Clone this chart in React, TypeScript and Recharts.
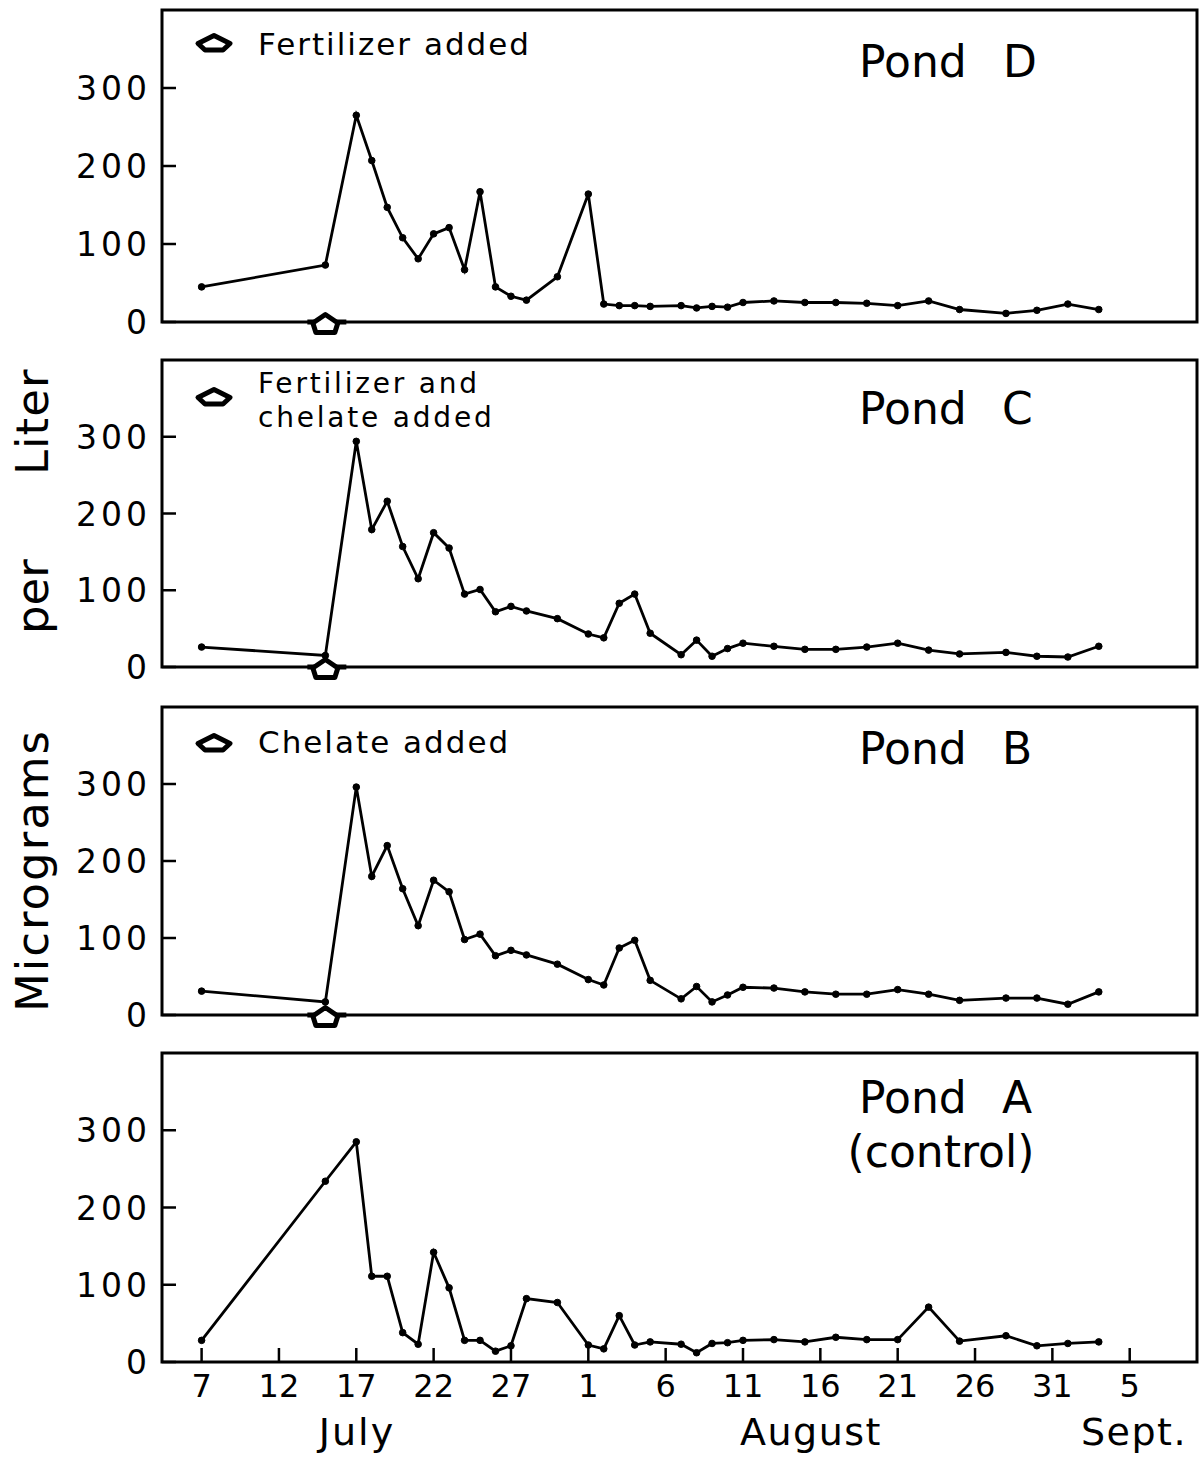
import React from 'react';
import { LineChart, Line, XAxis, YAxis, ReferenceArea, ReferenceDot } from 'recharts';

// Sampling dates, as days after July 7
const sampleDays = [0, 8, 10, 11, 12, 13, 14, 15, 16, 17, 18, 19, 20, 21, 23, 25, 26, 27, 28, 29, 31, 32, 33, 34, 35, 37, 39, 41, 43, 45, 47, 49, 52, 54, 56, 58];

const pondD = [45, 73, 265, 207, 147, 108, 81, 113, 121, 67, 167, 45, 33, 28, 58, 164, 23, 21, 21, 20, 21, 18, 20, 19, 25, 27, 25, 25, 24, 21, 27, 16, 11, 15, 23, 16];
const pondC = [26, 15, 294, 179, 216, 157, 115, 175, 155, 95, 101, 72, 79, 73, 63, 43, 38, 83, 95, 44, 16, 35, 14, 24, 31, 27, 23, 23, 26, 31, 22, 17, 19, 14, 13, 27];
const pondB = [31, 17, 296, 180, 220, 164, 116, 175, 160, 98, 105, 77, 84, 78, 66, 46, 39, 87, 97, 45, 21, 37, 17, 26, 36, 35, 30, 27, 27, 33, 27, 19, 22, 22, 14, 30];
const pondA = [28, 234, 285, 111, 111, 38, 23, 142, 96, 28, 28, 14, 21, 82, 77, 22, 17, 60, 22, 26, 23, 12, 24, 25, 28, 29, 26, 32, 29, 29, 71, 27, 34, 21, 24, 26];

const xTicks = [0, 5, 10, 15, 20, 25, 30, 35, 40, 45, 50, 55, 60];
const xTickLabels = ['7', '12', '17', '22', '27', '1', '6', '11', '16', '21', '26', '31', '5'];
const yTicks = [0, 100, 200, 300];
const additionDay = 8;

const X_DOMAIN: [number, number] = [-2.56, 64.35];
const Y_DOMAIN: [number, number] = [0, 400];
const FONT = 'DejaVu Sans';

const toRows = (values: number[]) => sampleDays.map((day, i) => ({ day, value: values[i] }));

const YTick = (props: any) => {
  const { x, y, payload } = props;
  return (
    <g>
      <line x1={x + 15} x2={x + 29} y1={y} y2={y} stroke="#000" strokeWidth={2.5} />
      <text x={x + 4} y={y} dy={12} textAnchor="end" fontFamily={FONT} fontSize={33} letterSpacing={4} fill="#000">
        {payload.value}
      </text>
    </g>
  );
};

const XTick = (props: any) => {
  const { x, y, payload } = props;
  const idx = xTicks.indexOf(payload.value);
  return (
    <g>
      <line x1={x} x2={x} y1={y - 11} y2={y - 25} stroke="#000" strokeWidth={2.5} />
      <text x={x} y={y + 24} textAnchor="middle" fontFamily={FONT} fontSize={32} fill="#000">
        {idx >= 0 ? xTickLabels[idx] : ''}
      </text>
    </g>
  );
};

const AxisArrow = (props: any) => {
  const { cx, cy } = props;
  return (
    <g transform={`translate(${cx},${cy + 1})`}>
      <line x1={-18} x2={21} y1={-1} y2={-1} stroke="#000" strokeWidth={5} />
      <path d="M -12.5 0 L 0 -8.5 L 12.5 0 L 9.5 9.5 L -9.5 9.5 Z" fill="#fff" stroke="#000" strokeWidth={5} strokeLinejoin="round" />
    </g>
  );
};

type PanelProps = { values: number[]; plotTop: number; plotHeight: number; showX?: boolean; marker?: boolean };

const Panel = ({ values, plotTop, plotHeight, showX = false, marker = false }: PanelProps) => {
  const data = toRows(values);
  const topM = 10;
  const bottomM = showX ? 0 : 30;
  const axisH = showX ? 100 : 0;
  return (
    <div style={{ position: 'absolute', left: 0, top: plotTop - topM }}>
      <LineChart width={1199} height={topM + plotHeight + bottomM + axisH} data={data} margin={{ top: topM, right: 2, left: 0, bottom: bottomM }}>
        <XAxis
          dataKey="day"
          type="number"
          domain={X_DOMAIN}
          allowDataOverflow
          ticks={xTicks}
          interval={0}
          hide={!showX}
          height={100}
          axisLine={false}
          tickLine={false}
          tickSize={0}
          tickMargin={11}
          tick={XTick}
        />
        <YAxis
          type="number"
          domain={Y_DOMAIN}
          allowDataOverflow
          ticks={yTicks}
          interval={0}
          width={162}
          axisLine={false}
          tickLine={false}
          tickSize={0}
          tickMargin={15}
          tick={YTick}
        />
        <ReferenceArea x1={X_DOMAIN[0]} x2={X_DOMAIN[1]} y1={Y_DOMAIN[0]} y2={Y_DOMAIN[1]} fill="none" fillOpacity={0} stroke="#000" strokeWidth={3} />
        {marker && <ReferenceDot x={additionDay} y={0} r={10} shape={AxisArrow} />}
        <Line
          dataKey="value"
          type="linear"
          stroke="#000"
          strokeWidth={2.8}
          dot={{ r: 3.3, fill: '#000', stroke: '#000', strokeWidth: 1 }}
          activeDot={false}
          isAnimationActive={false}
        />
      </LineChart>
    </div>
  );
};

const LegendSymbol = ({ cx, cy }: { cx: number; cy: number }) => (
  <path
    transform={`translate(${cx},${cy})`}
    d="M -16 0.5 L 0 -7.5 L 16 0.5 L 9 7 L -9 7 Z"
    fill="#fff"
    stroke="#000"
    strokeWidth={5}
    strokeLinejoin="round"
  />
);

const txt = { fontFamily: FONT, fill: '#000' } as const;

export default function App() {
  return (
    <div style={{ position: 'absolute', left: 0, top: 0, width: 1199, height: 1462, background: '#fff' }}>
      <Panel values={pondD} plotTop={10} plotHeight={312} marker />
      <Panel values={pondC} plotTop={360} plotHeight={307} marker />
      <Panel values={pondB} plotTop={707} plotHeight={308} marker />
      <Panel values={pondA} plotTop={1053} plotHeight={309} showX />
      <svg width={1199} height={1462} style={{ position: 'absolute', left: 0, top: 0, pointerEvents: 'none' }}>
        {/* y axis title */}
        <text {...txt} fontSize={45} letterSpacing={2} transform="rotate(-90 48 1012)" x={48} y={1012}>Micrograms</text>
        <text {...txt} fontSize={45} letterSpacing={0} transform="rotate(-90 48 634)" x={48} y={634}>per</text>
        <text {...txt} fontSize={45} letterSpacing={1} transform="rotate(-90 48 475)" x={48} y={475}>Liter</text>

        {/* pond titles */}
        <text {...txt} fontSize={44} x={859} y={77}>Pond</text>
        <text {...txt} fontSize={44} x={1003} y={77}>D</text>
        <text {...txt} fontSize={44} x={859} y={424}>Pond</text>
        <text {...txt} fontSize={44} x={1002} y={424}>C</text>
        <text {...txt} fontSize={44} x={859} y={764}>Pond</text>
        <text {...txt} fontSize={44} x={1002} y={764}>B</text>
        <text {...txt} fontSize={44} x={859} y={1113}>Pond</text>
        <text {...txt} fontSize={44} x={1002} y={1113}>A</text>
        <text {...txt} fontSize={44} x={941} y={1167} textAnchor="middle">(control)</text>

        {/* annotations */}
        <LegendSymbol cx={214} cy={43} />
        <text {...txt} fontSize={31} letterSpacing={2} x={258} y={55}>Fertilizer added</text>
        <LegendSymbol cx={214} cy={397} />
        <text {...txt} fontSize={28} letterSpacing={2.8} x={258} y={393}>Fertilizer and</text>
        <text {...txt} fontSize={28} letterSpacing={2.8} x={258} y={427}>chelate added</text>
        <LegendSymbol cx={214} cy={743} />
        <text {...txt} fontSize={31} letterSpacing={2} x={258} y={753}>Chelate added</text>

        {/* month labels */}
        <text {...txt} fontSize={38} letterSpacing={2} x={357} y={1445} textAnchor="middle">July</text>
        <text {...txt} fontSize={38} letterSpacing={1.5} x={811} y={1445} textAnchor="middle">August</text>
        <text {...txt} fontSize={38} letterSpacing={1.5} x={1134} y={1445} textAnchor="middle">Sept.</text>
      </svg>
    </div>
  );
}
